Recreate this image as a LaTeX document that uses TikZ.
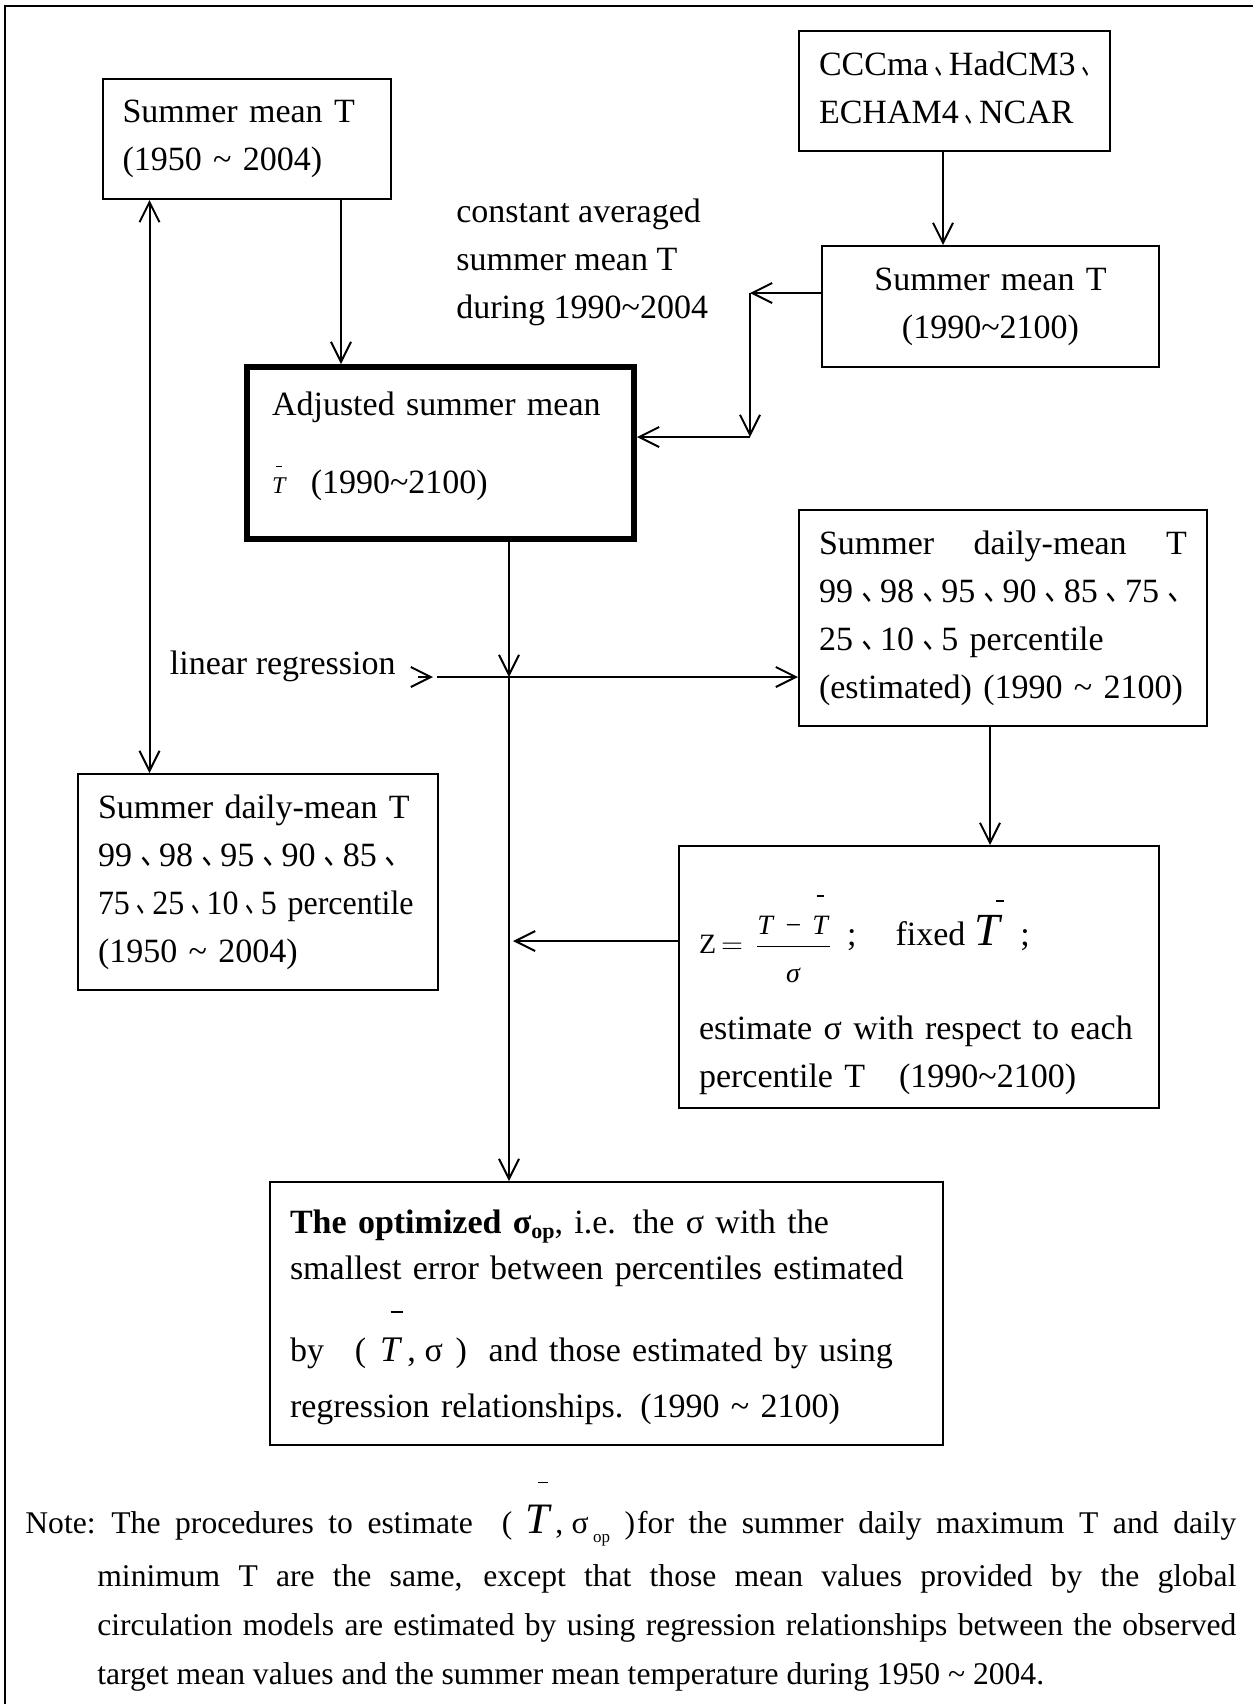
\documentclass[tikz,border=0pt]{standalone}
\usepackage{amsmath}
\usepackage{graphicx}
\usepackage{fontspec}
\setmainfont{Liberation Serif}
\newfontfamily\cjk{Noto Sans CJK TC}
\usetikzlibrary{arrows.meta,positioning}

\newcommand{\dun}[1][0.8]{\raisebox{-0.25em}[0pt][0pt]{\scalebox{#1}[1]{\cjk 、}}}
\newcommand{\wave}{\textasciitilde}
\newcommand{\gap}{\hspace{0pt plus 1filll}}
% italic T with a short bar: size, bar raise, bar shift, bar width
\newcommand{\Tbar}[4]{{\fontsize{#1}{#1}\selectfont\makebox[0pt][l]{\hspace*{#3}\rule[#2]{#4}{0.7pt}}\textit{T}}}
\newcommand{\opsub}[2]{\raisebox{#1}{\fontsize{#2}{#2}\selectfont op}}

\begin{document}
\begin{tikzpicture}[x=0.5pt,y=-0.5pt,
  box/.style={draw,line width=1pt,anchor=north west,inner xsep=10pt,inner ysep=0pt,
    align=left,font=\fontsize{17}{24}\selectfont},
  txt/.style={inner sep=0pt,align=left,font=\fontsize{17}{24}\selectfont},
  arr/.style={line width=1pt,-{Straight Barb[length=10pt,width=10pt]}},
  dblarr/.style={line width=1pt,{Straight Barb[length=10pt,width=10pt]}-{Straight Barb[length=10pt,width=10pt]}},
  pageframe/.style={line width=1pt}]
\useasboundingbox (0,0) rectangle (1253,1704);
\draw[pageframe] (5,1704) -- (5,6) -- (1253,6);

% boxes
\node[box,minimum width=144pt,minimum height=60pt,text width=124pt] (sm1) at (101.5,78)
  {Summer mean T\\(1950 \wave{} 2004)};
\node[box,minimum width=155.5pt,minimum height=60pt,text width=135.5pt] (gcm) at (798,30)
  {CCCma\dun[0.6]HadCM3\dun[0.6]\\ECHAM4\dun[0.6]NCAR\rule[-3pt]{0pt}{0pt}};
\node[box,minimum width=168.5pt,minimum height=60.5pt,text width=148.5pt,align=center] (sm2) at (821,245)
  {Summer mean T\\(1990\wave2100)};
\node[box,line width=3pt,minimum width=193.5pt,minimum height=86pt,text width=168.5pt,inner xsep=12.5pt] (adj) at (244,364)
  {Adjusted summer mean\\[15pt]\Tbar{12}{13pt}{2pt}{3pt}\hspace{12pt}(1990\wave2100)\rule[-10.5pt]{0pt}{0pt}};
\node[box,minimum width=204pt,minimum height=108pt,text width=184pt] (est) at (798,509)
  {Summer\gap daily-mean\gap T\\99\dun 98\dun 95\dun 90\dun 85\dun 75\dun\\25\dun 10\dun 5~percentile\\(estimated) (1990 \wave{} 2100)};
\node[box,minimum width=180pt,minimum height=108pt,text width=160pt] (obs) at (77,773)
  {Summer daily-mean T\\99\dun 98\dun 95\dun 90\dun 85\dun\\\scalebox{0.94}[1]{75\dun[0.7]25\dun[0.7]10\dun[0.7]5 percentile}\\(1950 \wave{} 2004)};
\node[box,minimum width=240pt,minimum height=131pt,text width=220pt] (zbox) at (678,845)
  {\rule{0pt}{47pt}{\fontsize{14}{16}\selectfont Z\hspace{2.5pt}$=$\hspace{6pt}$\dfrac{\mbox{\textit{T}\hspace{5.5pt}−\hspace{5.5pt}\Tbar{14}{18.7pt}{2.5pt}{3.2pt}}}{\rule{0pt}{16pt}\mbox{\textit{σ}}}$}\hspace{7.5pt}\raisebox{4pt}{;\hspace{19.5pt}fixed\hspace{4.5pt}\Tbar{23}{22pt}{11pt}{3.6pt}\hspace{8.9pt};}\\[15.5pt]
   estimate σ with respect to each\\
   percentile T\hspace{1em}(1990\wave2100)};
\node[box,minimum width=336.5pt,minimum height=131.5pt,text width=316.5pt] (opt) at (269,1181)
  {\rule{0pt}{15.6pt}\textbf{The optimized σ\opsub{-2.5pt}{11}}, i.e. the σ with the\\[-1pt]
   smallest error between percentiles estimated\\[11.5pt]
   by\hspace{15.4pt}(\hspace{7pt}\Tbar{18}{24.5pt}{5.2pt}{6pt}\hspace{2.5pt},\hspace{4.5pt}σ\hspace{6.25pt})\hspace{10.9pt}and those estimated by using\\[4pt]
   regression relationships. (1990 \wave{} 2100)};

% free texts
\node[txt,anchor=north west] (cst) at (456,198)
  {\rule{0pt}{12pt}constant averaged\\summer mean T\\during 1990\wave2004};
\node[txt,anchor=base west] (lr) at (169.5,674) {linear regression};
\node[txt,anchor=north west,text width=605.5pt,font=\fontsize{15.8}{24.5}\selectfont] (note) at (25,1479)
  {\spaceskip=0.25em plus 0.5em minus 0.08em\relax
   \rule{0pt}{27pt}\makebox[605.5pt][s]{Note: The procedures to estimate\hspace{14.4pt}(\hspace{6.5pt}\Tbar{21.7}{25pt}{6.6pt}{4.8pt}\hspace{1.7pt},\hspace{4.2pt}σ\hspace{2.2pt}\opsub{-4.5pt}{8.5}\hspace{7.3pt})\hspace{1pt}for the summer daily maximum T and daily}\\[2pt]
   \hspace*{36pt}\makebox[569.5pt][s]{minimum T are the same, except that those mean values provided by the global}\\
   \hspace*{36pt}\makebox[569.5pt][s]{circulation models are estimated by using regression relationships between the observed}\\
   \hspace*{36pt}target mean values and the summer mean temperature during 1950 \wave{} 2004.};

% connector points
\coordinate (colA) at (341,0);
\coordinate (colB) at (943,0);
\coordinate (colL) at (149.5,0);
\coordinate (colM) at (509,0);
\coordinate (colE) at (990,0);
\coordinate (bend1) at (750,293);
\coordinate (bend2) at (750,437);
\coordinate (jn) at (509,677);
\coordinate (rs) at (437,677);
\coordinate (rowZ) at (0,941);

% connectors
\draw[arr] (sm1.south -| colA) -- (adj.north -| colA);
\draw[arr] (gcm.south -| colB) -- (sm2.north -| colB);
\draw[arr] (sm2.west |- bend1) -- (bend1);
\draw[arr] (bend1) -- (bend2);
\draw[arr] (bend2) -- (adj.east |- bend2);
\draw[dblarr] (sm1.south -| colL) -- (obs.north -| colL);
\draw[arr] (adj.south -| colM) -- (jn);
\draw[arr] (jn) -- (opt.north -| jn);
\draw[arr] ([xshift=-9.5pt]rs) -- ([xshift=-2pt]rs);
\draw[arr] (rs) -- (est.west |- rs);
\draw[arr] (est.south -| colE) -- (zbox.north -| colE);
\draw[arr,shorten >=2pt] (zbox.west |- rowZ) -- (colM |- rowZ);
\end{tikzpicture}
\end{document}
